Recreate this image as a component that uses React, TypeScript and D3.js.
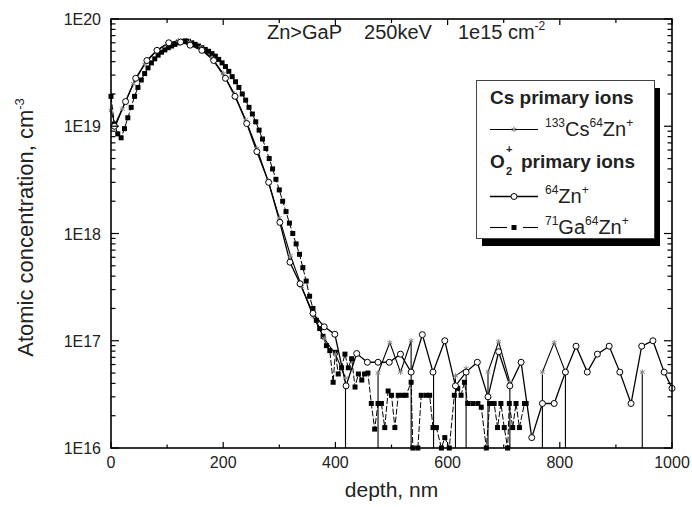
import React from "react";
import * as d3 from "d3";

// depth in nm, concentration in cm^-3 (0 = below detection limit)
const csDepth = [0, 8, 20, 40, 60, 80, 100, 120, 140, 160, 180, 200, 220, 240, 260, 280, 300, 320, 340, 360, 380, 400, 418, 437, 457, 476, 497, 516, 535, 555, 575, 595, 614, 633, 653, 672, 691, 711, 731, 750, 769, 790, 810, 829, 849, 868, 888, 907, 927, 947, 966, 986];
const csConc = [1.4e19, 1.0e19, 1.45e19, 2.5e19, 3.8e19, 5.0e19, 5.9e19, 6.3e19, 6.1e19, 5.4e19, 4.3e19, 3.1e19, 2.0e19, 1.15e19, 6.2e18, 3.1e18, 1.4e18, 6.2e17, 3.2e17, 1.7e17, 1.05e17, 7.5e16, 4.5e16, 0, 0, 5.0e16, 9.6e16, 5.1e16, 1.0e17, 0, 5.1e16, 0, 4.7e16, 5.5e16, 0, 5.1e16, 9.8e16, 4.1e16, 0, 0, 5.1e16, 9.6e16, 5.1e16, 0, 0, 0, 0, 0, 0, 5.1e16, 0, 0];

const znDepth = [6, 26, 44, 64, 82, 103, 124, 141, 162, 183, 204, 221, 242, 260, 281, 301, 319, 337, 360, 380, 399, 419, 438, 457, 476, 496, 516, 535, 555, 574, 595, 614, 633, 653, 672, 691, 711, 731, 750, 769, 790, 810, 829, 849, 867, 888, 907, 927, 946, 966, 986, 1000];
const znConc = [1.0e19, 1.7e19, 2.8e19, 4.1e19, 5.1e19, 6.0e19, 6.1e19, 5.7e19, 5.1e19, 4.1e19, 2.8e19, 1.9e19, 1.06e19, 5.8e18, 3.0e18, 1.27e18, 5.4e17, 3.4e17, 1.8e17, 1.35e17, 1.15e17, 3.8e16, 7.6e16, 6.3e16, 6.3e16, 6.3e16, 7.5e16, 5.1e16, 1.14e17, 5.1e16, 1.0e17, 3.8e16, 5.1e16, 6.3e16, 3.0e16, 7.9e16, 3.8e16, 6.3e16, 1.25e16, 2.6e16, 2.6e16, 5.1e16, 8.9e16, 5.1e16, 7.5e16, 8.9e16, 5.1e16, 2.6e16, 8.9e16, 1.0e17, 5.1e16, 3.6e16];

const gaDepth = [0, 6, 12, 18, 24, 30, 36, 42, 48, 54, 60, 66, 72, 78, 84, 90, 96, 102, 108, 114, 120, 126, 132, 138, 144, 150, 156, 162, 168, 174, 180, 186, 192, 198, 204, 210, 216, 222, 228, 234, 240, 246, 252, 258, 264, 270, 276, 282, 288, 294, 300, 306, 312, 318, 324, 330, 336, 342, 348, 354, 360, 366, 372, 378, 384, 390, 396,
  400, 405, 411, 417, 423, 429, 435, 441, 447, 452, 458, 464, 470, 476, 482, 488, 494, 500, 506, 512, 520, 526, 535, 538, 547, 553, 562, 568, 574, 580, 589, 595, 603, 612, 618, 624, 630, 636, 645, 654, 660, 669, 675, 683, 689, 695, 701, 707, 710, 716, 722, 728, 737, 740];
const gaConc = [1.9e19, 1.05e19, 8.5e18, 7.8e18, 9.5e18, 1.2e19, 1.5e19, 1.9e19, 2.3e19, 2.7e19, 3.1e19, 3.5e19, 3.9e19, 4.25e19, 4.6e19, 4.9e19, 5.15e19, 5.4e19, 5.6e19, 5.8e19, 6.0e19, 6.15e19, 6.25e19, 6.2e19, 6.0e19, 5.8e19, 5.6e19, 5.4e19, 5.2e19, 5.0e19, 4.75e19, 4.5e19, 4.2e19, 3.9e19, 3.6e19, 3.25e19, 2.9e19, 2.6e19, 2.3e19, 2.0e19, 1.75e19, 1.5e19, 1.3e19, 1.1e19, 9.2e18, 7.6e18, 6.2e18, 5.0e18, 4.0e18, 3.2e18, 2.55e18, 2.0e18, 1.6e18, 1.25e18, 1.0e18, 8.0e17, 6.4e17, 4.8e17, 3.6e17, 2.6e17, 2.0e17, 1.55e17, 1.3e17, 1.1e17, 9.0e16, 8.1e16, 4.1e16,
  7.8e16, 4.9e16, 5.6e16, 7.5e16, 5.6e16, 6.8e16, 3.7e16, 4.9e16, 4.3e16, 4.9e16, 5.0e16, 2.6e16, 1.5e16, 2.6e16, 2.6e16, 1.55e16, 3.4e16, 3.1e16, 1.55e16, 3.1e16, 3.1e16, 3.1e16, 4.1e16, 1.0e16, 1.0e16, 3.1e16, 3.1e16, 3.1e16, 1.55e16, 1.55e16, 1.0e16, 1.25e16, 1.0e16, 3.1e16, 3.6e16, 3.1e16, 4.1e16, 2.6e16, 2.6e16, 2.6e16, 2.4e16, 1.0e16, 2.6e16, 2.6e16, 1.55e16, 2.6e16, 1.55e16, 1.0e16, 2.6e16, 1.55e16, 2.6e16, 1.55e16, 2.6e16, 2.6e16];

const xTicks = [0, 200, 400, 600, 800, 1000];
const yTicks = [1e16, 1e17, 1e18, 1e19, 1e20];
const yTickLabels = ["1E16", "1E17", "1E18", "1E19", "1E20"];

const font = "Arial, 'Liberation Sans', sans-serif";

const x = d3.scaleLinear().domain([0, 1000]).range([111, 672]);
const y = d3.scaleLog().domain([1e16, 1e20]).range([448, 19]);

// zero values drop to the bottom as vertical lines (log scale)
function tracePath(depth: number[], conc: number[]) {
  const p = d3.path();
  const bottom = y.range()[0] + 3;
  let prevOk = false;
  let prevX = 0;
  depth.forEach((d, i) => {
    const c = conc[i];
    const px = x(d);
    if (c > 0) {
      const py = y(c);
      if (i === 0) p.moveTo(px, py);
      else if (prevOk) p.lineTo(px, py);
      else {
        p.moveTo(px, bottom);
        p.lineTo(px, py);
      }
      prevOk = true;
      prevX = px;
    } else {
      if (prevOk) p.lineTo(prevX, bottom);
      prevOk = false;
    }
  });
  return p.toString();
}

const asterisk = d3.symbol().type(d3.symbolAsterisk).size(22)() as string;

export default function App() {
  const [x0, x1] = x.range();
  const [yb, yt] = y.range();

  const minorX = d3.range(100, 1000, 200);
  const minorY: number[] = [];
  for (let k = 16; k < 20; k++) for (let m = 2; m < 10; m++) minorY.push(m * Math.pow(10, k));

  const lgX = 490;
  const lgX2 = 538;
  const lgMid = (lgX + lgX2) / 2;

  return (
    <svg width={692} height={507} style={{ position: "absolute", left: 0, top: 0, background: "#fff" }} fontFamily={font}>
      <defs>
        <clipPath id="plot">
          <rect x={x0} y={yt} width={x1 - x0} height={yb - yt} />
        </clipPath>
      </defs>

      {/* data */}
      <g clipPath="url(#plot)">
        <path d={tracePath(gaDepth, gaConc)} fill="none" stroke="#000" strokeWidth={1} strokeDasharray="6,2" />
        <path d={tracePath(csDepth, csConc)} fill="none" stroke="#000" strokeWidth={1.1} />
        <path d={tracePath(znDepth, znConc)} fill="none" stroke="#000" strokeWidth={1.3} />
      </g>
      <g>
        {gaDepth.map((d, i) => (
          <rect key={i} x={x(d) - 2.5} y={y(gaConc[i]) - 2.5} width={5} height={5} fill="#000" />
        ))}
        {csDepth.map((d, i) =>
          csConc[i] > 0 ? (
            <path key={i} d={asterisk} transform={`translate(${x(d)},${y(csConc[i])})`} fill="none" stroke="#888" strokeWidth={1} />
          ) : null
        )}
        {znDepth.map((d, i) => (
          <circle key={i} cx={x(d)} cy={y(znConc[i])} r={3} fill="#fff" stroke="#000" strokeWidth={1} />
        ))}
      </g>

      {/* frame and ticks */}
      <rect x={x0} y={yt} width={x1 - x0} height={yb - yt} fill="none" stroke="#000" strokeWidth={1.6} />
      <g stroke="#000" strokeWidth={1.2}>
        {xTicks.map((t) => (
          <g key={t}>
            <line x1={x(t)} x2={x(t)} y1={yb} y2={yb - 6} />
            <line x1={x(t)} x2={x(t)} y1={yt} y2={yt + 6} />
          </g>
        ))}
        {minorX.map((t) => (
          <g key={t}>
            <line x1={x(t)} x2={x(t)} y1={yb} y2={yb - 3.5} />
            <line x1={x(t)} x2={x(t)} y1={yt} y2={yt + 4} />
          </g>
        ))}
        {yTicks.map((t) => (
          <g key={t}>
            <line x1={x0} x2={x0 + 8} y1={y(t)} y2={y(t)} />
            <line x1={x1} x2={x1 - 8} y1={y(t)} y2={y(t)} />
          </g>
        ))}
        {minorY.map((t) => (
          <g key={t}>
            <line x1={x0} x2={x0 + 4.5} y1={y(t)} y2={y(t)} />
            <line x1={x1} x2={x1 - 4.5} y1={y(t)} y2={y(t)} />
          </g>
        ))}
      </g>

      {/* tick labels */}
      <g fontSize={16} fill="#222">
        {xTicks.map((t) => (
          <text key={t} x={x(t)} y={468} textAnchor="middle">{t}</text>
        ))}
        {yTicks.map((t, i) => (
          <text key={t} x={101} y={y(t) + 6} textAnchor="end">{yTickLabels[i]}</text>
        ))}
      </g>

      {/* axis titles */}
      <text x={(x0 + x1) / 2} y={497} textAnchor="middle" fontSize={21} fill="#222">depth, nm</text>
      <text transform={`translate(33,${(yt + yb) / 2 - 6}) rotate(-90)`} textAnchor="middle" fontSize={22} fill="#222">
        Atomic concentration, cm<tspan fontSize={13} dy={-9}>-3</tspan>
      </text>

      {/* title */}
      <text x={267} y={39} fontSize={20} fill="#222">
        Zn&gt;GaP<tspan dx={22}>250keV</tspan><tspan dx={26}>1e15 cm</tspan><tspan fontSize={12} dy={-9}>-2</tspan>
      </text>

      {/* legend */}
      <rect x={482} y={88} width={178} height={158} fill="#000" />
      <rect x={476.5} y={80.5} width={178} height={158} fill="#fff" stroke="#444" strokeWidth={1} />
      <g fill="#222">
        <text x={lgX} y={104} fontSize={19} fontWeight="bold">Cs  primary ions</text>
        <line x1={lgX} x2={lgX2} y1={129.5} y2={129.5} stroke="#000" strokeWidth={1.1} />
        <path d={asterisk} transform={`translate(${lgMid},129.5)`} fill="none" stroke="#888" strokeWidth={1} />
        <text x={545} y={136} fontSize={20}>
          <tspan fontSize={12} dy={-9}>133</tspan><tspan dy={9}>Cs</tspan><tspan fontSize={12} dy={-9}>64</tspan><tspan dy={9}>Zn</tspan><tspan fontSize={12} dy={-9}>+</tspan>
        </text>

        <text x={lgX} y={168} fontSize={19} fontWeight="bold">O</text>
        <text x={lgX + 16} y={153} fontSize={11} fontWeight="bold">+</text>
        <text x={lgX + 16} y={175} fontSize={11} fontWeight="bold">2</text>
        <text x={lgX + 31} y={168} fontSize={19} fontWeight="bold">primary ions</text>

        <line x1={lgX} x2={lgX2} y1={196.5} y2={196.5} stroke="#000" strokeWidth={1.3} />
        <circle cx={lgMid} cy={196.5} r={3} fill="#fff" stroke="#000" strokeWidth={1} />
        <text x={545} y={203} fontSize={20}>
          <tspan fontSize={12} dy={-9}>64</tspan><tspan dy={9}>Zn</tspan><tspan fontSize={12} dy={-9}>+</tspan>
        </text>

        <line x1={lgX} x2={lgX + 17} y1={227.5} y2={227.5} stroke="#000" strokeWidth={1.1} />
        <line x1={lgX2 - 15} x2={lgX2} y1={227.5} y2={227.5} stroke="#000" strokeWidth={1.1} />
        <rect x={lgMid - 2.5} y={225} width={5} height={5} fill="#000" />
        <text x={545} y={234} fontSize={20}>
          <tspan fontSize={12} dy={-9}>71</tspan><tspan dy={9}>Ga</tspan><tspan fontSize={12} dy={-9}>64</tspan><tspan dy={9}>Zn</tspan><tspan fontSize={12} dy={-9}>+</tspan>
        </text>
      </g>
    </svg>
  );
}
